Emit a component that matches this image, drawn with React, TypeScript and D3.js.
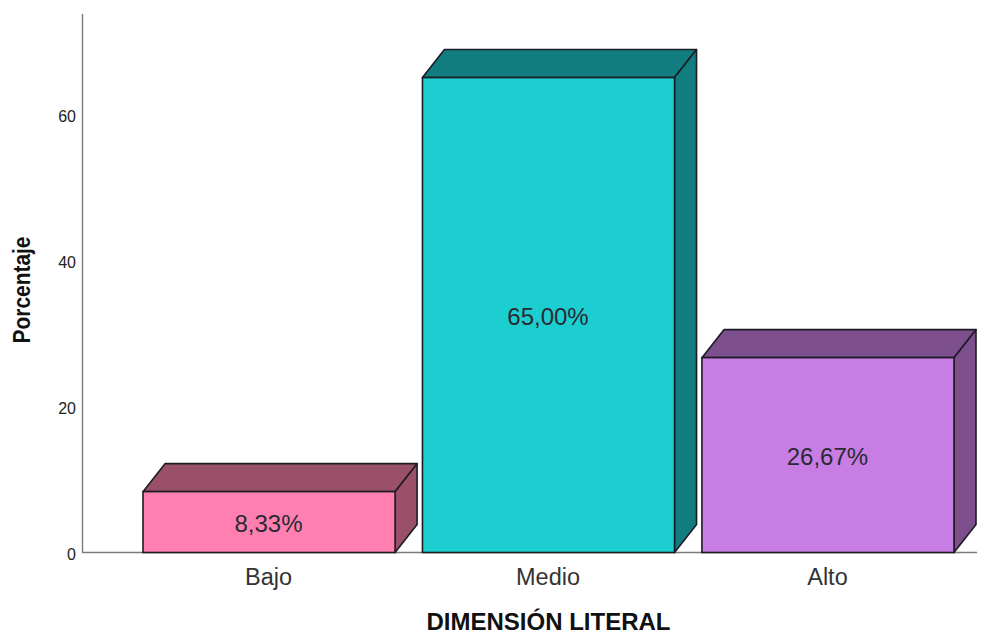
import React from "react";
import * as d3 from "d3";

const categories = ["Bajo", "Medio", "Alto"];
const values = [8.33, 65.0, 26.67];
const valueLabels = ["8,33%", "65,00%", "26,67%"];
const frontColors = ["#ff80b0", "#1cced0", "#c87de4"];
const sideColors = ["#9b5069", "#127d7f", "#7d4f8c"];
const yTicks = [0, 20, 40, 60];
const xTitle = "DIMENSIÓN LITERAL";
const yTitle = "Porcentaje";

const W = 989;
const H = 635;
const FONT = "'Liberation Sans', Arial, sans-serif";

export default function App() {
  const x = d3.scaleBand<string>().domain(categories).range([143, 954]).paddingInner(0.098).paddingOuter(0);
  const y = d3.scaleLinear().domain([0, 73.7]).range([552.5, 14]);
  const dx = 22;
  const dy = -28;
  const stroke = "#1c1c24";
  const poly = d3.line();

  return (
    <svg
      width={W}
      height={H}
      viewBox={`0 0 ${W} ${H}`}
      style={{ position: "absolute", left: 0, top: 0, background: "#fff" }}
      fontFamily={FONT}
    >
      <line x1={82.5} x2={82.5} y1={y(73.7)} y2={y(0)} stroke="#7a7a7a" strokeWidth={1.4} />
      <line x1={82} x2={977} y1={y(0)} y2={y(0)} stroke="#7a7a7a" strokeWidth={1.4} />

      {yTicks.map((t) => (
        <text key={t} x={76} y={y(t) + 7.5} textAnchor="end" fontSize={16} fill="#222">
          {t}
        </text>
      ))}

      {categories.map((c, i) => {
        const x0 = x(c)!;
        const x1 = x0 + x.bandwidth();
        const yt = y(values[i]);
        const yb = y(0);
        const top = poly([[x0, yt], [x0 + dx, yt + dy], [x1 + dx, yt + dy], [x1, yt]]) + "Z";
        const side = poly([[x1, yt], [x1 + dx, yt + dy], [x1 + dx, yb + dy], [x1, yb]]) + "Z";
        return (
          <g key={c}>
            <path d={top} fill={sideColors[i]} stroke={stroke} strokeWidth={1.6} strokeLinejoin="round" />
            <path d={side} fill={sideColors[i]} stroke={stroke} strokeWidth={1.6} strokeLinejoin="round" />
            <rect x={x0} y={yt} width={x.bandwidth()} height={yb - yt} fill={frontColors[i]} stroke={stroke} strokeWidth={1.6} />
            <text
              x={(x0 + x1) / 2 - 0.5}
              y={(yt + yb) / 2 + 9.5}
              textAnchor="middle"
              fontSize={24}
              fill="#2a2a33"
            >
              {valueLabels[i]}
            </text>
            <text x={(x0 + x1) / 2 - 0.5} y={585} textAnchor="middle" fontSize={23.5} fill="#333">
              {c}
            </text>
          </g>
        );
      })}

      <text x={548.5} y={629.8} textAnchor="middle" fontSize={24} fontWeight="bold" fill="#111">
        {xTitle}
      </text>
      <text
        transform="translate(30,290) rotate(-90) scale(0.91,1)"
        textAnchor="middle"
        fontSize={23}
        fontWeight="bold"
        fill="#111"
      >
        {yTitle}
      </text>
    </svg>
  );
}
